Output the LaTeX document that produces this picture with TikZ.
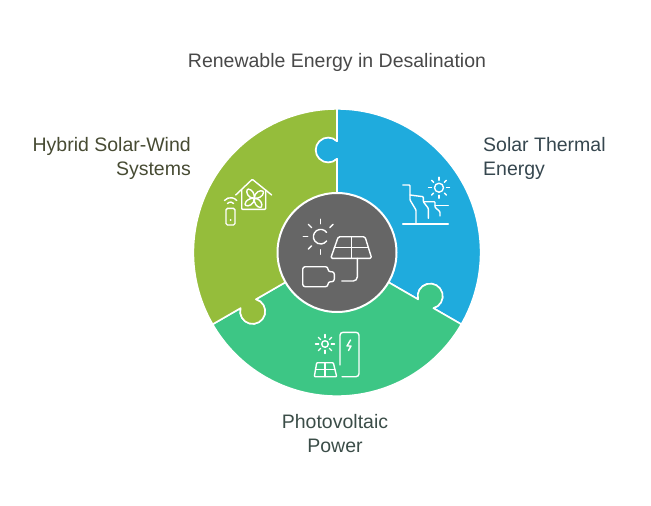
\documentclass[tikz,border=0pt]{standalone}
\usepackage{fontspec}
\setmainfont{Liberation Sans}
\usepackage{tikz}
\definecolor{pieceblue}{HTML}{1FABDD}
\definecolor{piecegreen}{HTML}{3DC685}
\definecolor{pieceolive}{HTML}{95BD3B}
\definecolor{hubgrey}{HTML}{666666}
\definecolor{titletext}{HTML}{484848}
\definecolor{olivetext}{HTML}{474B33}
\definecolor{bluetext}{HTML}{36474F}
\definecolor{greentext}{HTML}{3B4D48}
\tikzstyle{lbl} = [inner sep=0pt, font=\fontsize{19.5}{24}\selectfont]
\tikzstyle{piece} = [draw=white, line width=1.6pt, line join=round]
\tikzstyle{icon} = [draw=white, line width=1.4pt, line cap=round, line join=round, rounded corners=0.8pt]
\newcommand{\puzzlepiece}[2]{
  \path[piece, fill=#2, rotate=#1] (0,0) -- (90:93.66)
    arc[start angle=-45, end angle=-315, radius=12.5] -- (90:143.6)
    arc[start angle=90, end angle=-30, radius=143.6] -- (-30:111.34)
    arc[start angle=-75, end angle=195, radius=12.5] -- cycle;
}
\newcommand{\sunrays}[4]{
  \foreach \a in {#4}
    \draw[icon] (#1) ++(\a:#2) -- ++(\a:#3);
}

\begin{document}
\begin{tikzpicture}[x=1pt,y=-1pt]
  \useasboundingbox (0,0) rectangle (651,506);

  % puzzle ring
  \begin{scope}[shift={(337,252.5)},y=1pt]
    \puzzlepiece{0}{pieceblue}
    \puzzlepiece{-120}{piecegreen}
    \puzzlepiece{120}{pieceolive}
  \end{scope}
  \node[circle, draw=white, line width=2pt, fill=hubgrey, minimum size=119pt, inner sep=0pt] (hub) at (337,252.5) {};

  % labels
  \node[lbl, text=titletext] (title) at (337,62) {Renewable Energy in Desalination};
  \node[lbl, text=olivetext, align=right, anchor=east] (hybrid) at (191,158) {Hybrid Solar-Wind\\Systems};
  \node[lbl, text=bluetext, align=left, anchor=west] (thermal) at (483,158) {Solar Thermal\\Energy};
  \node[lbl, text=greentext, align=center] (pv) at (335,434) {Photovoltaic\\Power};

  % hub icon
  \coordinate (hubsun) at (320.7,236.7);
  \draw[icon] (326.6,232.4) arc[start angle=-36, end angle=-324, radius=7.3];
  \sunrays{hubsun}{13}{4.5}{90,135,180,225,270,315}
  \draw[icon, rounded corners=1.5pt] (338.3,236.7) -- (365,236.7) -- (371.7,258.3) -- (330.7,258.3) -- cycle;
  \draw[icon] (351.7,236.7) -- (351.7,258.3);
  \draw[icon] (334.3,247.7) -- (368.3,247.7);
  \draw[icon, rounded corners=4pt] (357.3,258.3) -- (357.3,281) -- (341.7,281);
  \draw[icon, rounded corners=2.5pt] (302.7,266.7) -- (328,266.7) -- (328,271.7) -- (334.3,271.7) -- (334.3,281.7) -- (328,281.7) -- (328,286.7) -- (302.7,286.7) -- cycle;

  % thermal icon
  \coordinate (bluesun) at (439,187.7);
  \draw[icon] (bluesun) circle[radius=4.5];
  \sunrays{bluesun}{7.5}{3}{0,45,90,135,180,225,270,315}
  \draw[icon] (402.7,185) -- (410,185) -- (410,200) -- (416,210) -- (416,224);
  \draw[icon] (410,195) -- (423.3,196.7) -- (423.3,201.7) -- (428.3,208.3) -- (428.3,218.3);
  \draw[icon] (424.3,201.7) -- (435,201.7) -- (435,207.3) -- (440,211.7) -- (440,216);
  \draw[icon] (435,205.7) -- (448.3,205.7);
  \draw[icon] (402.7,224) -- (448.3,224);

  % home and wind icon
  \draw[icon] (235.7,195) -- (252.3,179.3) -- (271.7,195);
  \draw[icon] (241.7,190) -- (241.7,209.3) -- (265.7,209.3) -- (265.7,190);
  \foreach \a in {20,110,200,290}
    \draw[icon, shift={(254.3,198.3)}, rotate=\a] (0,0) .. controls (2,-6) and (9,-6) .. (11,-3) .. controls (9,1) and (4,2) .. (0,0);
  \draw[icon, rounded corners=1.5pt] (226,208.3) rectangle (235,225);
  \fill[white] (230.7,220) circle[radius=1];
  \draw[icon] (227.5,203.5) arc[start angle=220, end angle=320, radius=4];
  \draw[icon] (224.5,200.5) arc[start angle=220, end angle=320, radius=8];

  % pv icon
  \coordinate (greensun) at (325,344);
  \draw[icon] (greensun) circle[radius=3.3];
  \sunrays{greensun}{6.3}{3.2}{0,45,90,135,180,225,270,315}
  \draw[icon] (316.7,362.7) -- (333.3,362.7) -- (336.7,376.7) -- (314.3,376.7) -- cycle;
  \draw[icon] (325,362.7) -- (325,376.7);
  \draw[icon] (315.5,369.3) -- (335,369.3);
  \draw[icon, rounded corners=3pt] (340,365) -- (340,332.3) -- (359,332.3) -- (359,376.7) -- (342,376.7);
  \draw[icon, rounded corners=0pt] (350.5,340) -- (347,346) -- (351,346) -- (348.5,350.5);
\end{tikzpicture}
\end{document}
